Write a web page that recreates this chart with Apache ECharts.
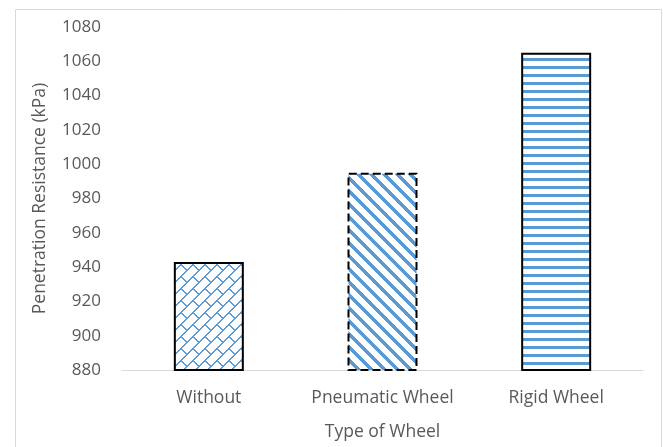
<!DOCTYPE html>
<html><head><meta charset="utf-8">
<script src="https://cdn.jsdelivr.net/npm/echarts@6/dist/echarts.min.js"></script>
<style>html,body{margin:0;padding:0;background:#fff}#c{width:663px;height:447px}</style>
</head><body><div id="c"></div>
<script>
var categories = ['Without', 'Pneumatic Wheel', 'Rigid Wheel'];
var values = [943, 995, 1065];
var yMin = 880, yMax = 1080, yStep = 20;

var BLUE = '#5B9BD5';
function mk(w, h, test) {
  var c = document.createElement('canvas'); c.width = w; c.height = h;
  var g = c.getContext('2d'); g.fillStyle = '#fff'; g.fillRect(0, 0, w, h);
  g.fillStyle = BLUE;
  for (var y = 0; y < h; y++) for (var x = 0; x < w; x++) if (test(x, y)) g.fillRect(x, y, 1, 1);
  return c;
}
function mod(a, n) { return ((a % n) + n) % n; }
var patTrellis = mk(24, 24, function (x, y) {
  var u = x + y, v = x - y;
  if (mod(u, 12) <= 1) return true;
  var k = Math.floor(u / 12);
  var vv = mod(v - 12 * mod(k, 2), 24);
  return vv <= 1;
});
var patDiag = mk(13, 13, function (x, y) {
  return mod(x - y, 13) < 5;
});
var patHoriz = mk(8, 8, function (x, y) {
  return y >= 2 && y < 5;
});

var patterns = [
  {image: patTrellis, repeat: 'repeat'},
  {image: patDiag, repeat: 'repeat'},
  {image: patHoriz, repeat: 'repeat'}
];
var borders = ['solid', 'dashed', 'solid'];

var chart = echarts.init(document.getElementById('c'));
var font = '"Open Sans", "Liberation Sans", sans-serif';
chart.setOption({
  animation: false,
  graphic: [{type: 'rect', shape: {x: 15.5, y: 9.5, width: 646, height: 440}, style: {fill: null, stroke: '#d9d9d9', lineWidth: 1}}],
  grid: {left: 122, right: 20, top: 27, bottom: 77},
  xAxis: {
    type: 'category', data: categories,
    name: 'Type of Wheel', nameLocation: 'middle', nameGap: 53,
    nameTextStyle: {color: '#595959', fontSize: 17.5, fontFamily: font},
    axisLine: {lineStyle: {color: '#d9d9d9', width: 1}},
    axisTick: {show: false},
    axisLabel: {color: '#595959', fontSize: 17.5, fontFamily: font, margin: 19, interval: 0, hideOverlap: false}
  },
  yAxis: {
    type: 'value', min: yMin, max: yMax, interval: yStep,
    name: 'Penetration Resistance (kPa)', nameLocation: 'middle', nameGap: 73,
    nameTextStyle: {color: '#595959', fontSize: 17.5, fontFamily: font},
    axisLine: {show: false}, axisTick: {show: false},
    splitLine: {show: false},
    axisLabel: {color: '#595959', fontSize: 17, fontFamily: font, margin: 21,
      formatter: function (v) { return String(v); }}
  },
  series: [{
    type: 'bar', barWidth: 70,
    data: values.map(function (v, i) {
      return {value: v, itemStyle: {color: patterns[i], borderColor: '#000', borderWidth: 2, borderType: borders[i]}};
    })
  }]
});
</script></body></html>
